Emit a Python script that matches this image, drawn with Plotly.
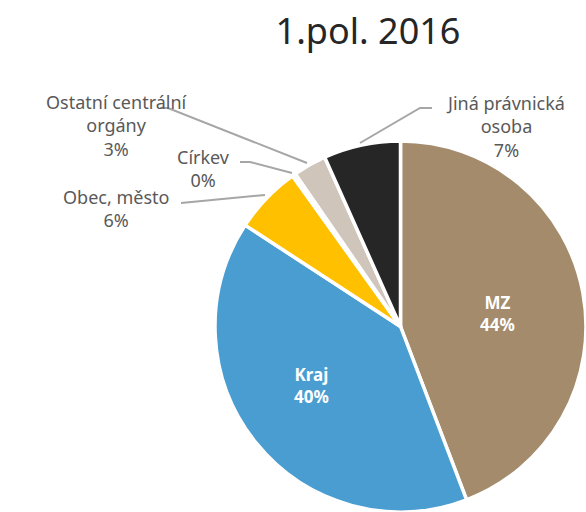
import plotly.graph_objects as go

W, H = 586, 512

categories = ["MZ", "Kraj", "Obec, město", "Církev", "Ostatní centrální orgány", "Jiná právnická osoba"]
values = [44.2, 40.0, 5.9, 0.3, 2.9, 6.7]
pct_labels = ["44%", "40%", "6%", "0%", "3%", "7%"]
display_names = ["MZ", "Kraj", "Obec, město", "Církev", "Ostatní centrální<br>orgány", "Jiná právnická<br>osoba"]
colors = ["#A38B6B", "#4A9DD0", "#FFC000", "#8C8C8C", "#D0C5BA", "#262626"]

def px(x):
    return min(max(x / W, 0.0), 1.0)

def py(y):
    return min(max(1 - y / H, 0.0), 1.0)

fig = go.Figure(go.Pie(
    labels=categories,
    values=values,
    sort=False,
    direction="clockwise",
    rotation=0,
    marker=dict(colors=colors, line=dict(color="white", width=3.5)),
    textinfo="none",
    hoverinfo="label+percent",
    showlegend=False,
    domain=dict(x=[px(215), 1.0], y=[0.0, py(141)]),
))

font_fam = "Noto Sans, DejaVu Sans, sans-serif"
label_color = "#595959"

label_pos = {
    0: (497, 313, True),
    1: (311, 385, True),
    2: (116, 208, False),
    3: (203, 168, False),
    4: (116, 125, False),
    5: (505, 126, False),
}
annotations = []
for i, (x, y, inside) in label_pos.items():
    txt = display_names[i] + "<br>" + pct_labels[i]
    if inside:
        txt = "<b>" + txt + "</b>"
    annotations.append(dict(
        x=px(x), y=py(y), xref="paper", yref="paper",
        text=txt, showarrow=False, xanchor="center", yanchor="middle",
        font=dict(family=font_fam, size=18 if not inside else 17,
                  color="white" if inside else label_color),
        align="center",
    ))

leader_paths = [
    [(160, 108), (168, 108), (307, 163)],
    [(240, 162), (250, 162), (292, 173)],
    [(181, 203), (265, 195)],
    [(432, 108), (420, 108), (360, 143)],
]
shapes = []
for pts in leader_paths:
    d = "M " + " L ".join(f"{px(a)},{py(b)}" for a, b in pts)
    shapes.append(dict(type="path", xref="paper", yref="paper", path=d,
                       line=dict(color="#A6A6A6", width=2)))

fig.update_layout(
    width=W, height=H,
    margin=dict(l=0, r=0, t=0, b=0),
    paper_bgcolor="white",
    plot_bgcolor="white",
    title=dict(text="1.pol. 2016", x=px(368), y=py(31), xanchor="center", yanchor="middle",
               font=dict(family=font_fam, size=36, color="#262626")),
    annotations=annotations,
    shapes=shapes,
)

fig.write_html(
    "out.html",
    config={"displayModeBar": False},
    post_script="document.body.style.margin='0';document.body.style.overflow='hidden';",
)
